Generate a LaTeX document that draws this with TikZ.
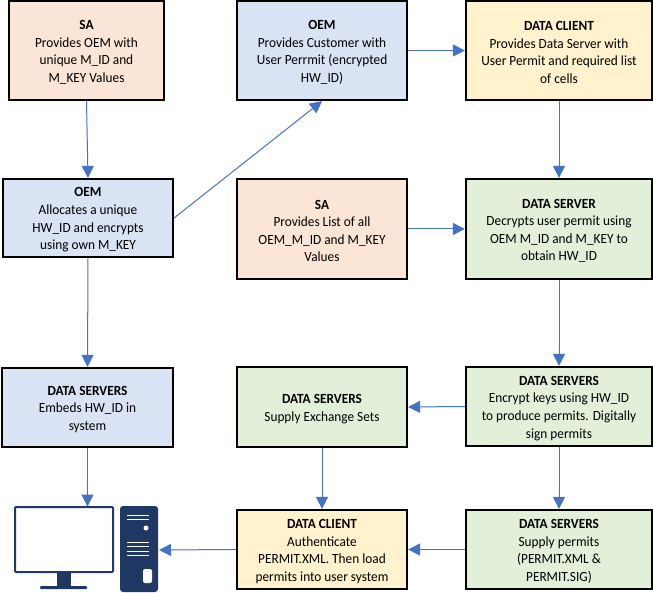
\documentclass[tikz,border=0pt]{standalone}
\usepackage{fontspec}
\setmainfont[FakeStretch=0.95]{Carlito}
\usetikzlibrary{arrows.meta}
\definecolor{peach}{HTML}{FBE5D6}
\definecolor{paleblue}{HTML}{DAE3F3}
\definecolor{paleyellow}{HTML}{FFF2CC}
\definecolor{palegreen}{HTML}{E2F0D9}
\definecolor{arrowblue}{HTML}{4472C4}
\definecolor{navy}{HTML}{1F3864}
\newcommand{\boxhead}[1]{\rule{0pt}{13pt}\textbf{#1}}
\tikzset{
    box/.style={draw=black,line width=2.2pt,align=center,inner sep=0pt,
        font=\fontsize{14}{17.6}\selectfont},
    link/.style={arrowblue,line width=1pt,-{Triangle[length=12pt,width=12pt]}}
}
\begin{document}
\begin{tikzpicture}[x=1pt,y=-1pt]
        \useasboundingbox (0,0) rectangle (653,593);
        \fill[white] (0,0) rectangle (653,593);
        % top row
        \node[box,fill=peach,minimum width=155pt,minimum height=99pt] (SAa) at (86.5,50.5)
            {\boxhead{SA}\\Provides OEM with\\unique M\_ID and\\M\_KEY Values};
        \node[box,fill=paleblue,minimum width=170pt,minimum height=99pt] (OEMb) at (322,50.5)
            {\boxhead{OEM}\\Provides Customer with\\User Perrmit (encrypted\\HW\_ID)};
        \node[box,fill=paleyellow,minimum width=186pt,minimum height=99pt] (CLa) at (559,50.5)
            {\boxhead{DATA CLIENT}\\Provides Data Server with\\User Permit and required list\\of cells};
        % second row
        \node[box,fill=paleblue,minimum width=170pt,minimum height=78pt] (OEMa) at (88,218)
            {\boxhead{OEM}\\Allocates a unique\\HW\_ID and encrypts\\using own M\_KEY};
        \node[box,fill=peach,minimum width=170pt,minimum height=100pt] (SAb) at (322,229)
            {\boxhead{SA}\\Provides List of all\\OEM\_M\_ID and M\_KEY\\Values};
        \node[box,fill=palegreen,minimum width=186pt,minimum height=100pt] (DSa) at (559,229)
            {\boxhead{DATA SERVER}\\Decrypts user permit using\\OEM M\_ID and M\_KEY to\\obtain HW\_ID};
        % third row
        \node[box,fill=paleblue,minimum width=171pt,minimum height=79pt] (DSb) at (87.5,407.5)
            {\boxhead{DATA SERVERS}\\Embeds HW\_ID in\\system};
        \node[box,fill=palegreen,minimum width=170pt,minimum height=80pt] (DSc) at (322,407)
            {\boxhead{DATA SERVERS}\\Supply Exchange Sets};
        \node[box,fill=palegreen,minimum width=186pt,minimum height=79pt] (DSd) at (559,406.5)
            {\boxhead{DATA SERVERS}\\Encrypt keys using HW\_ID\\to produce permits. Digitally\\sign permits};
        % bottom row
        \node[box,fill=paleyellow,minimum width=170pt,minimum height=79pt] (CLb) at (322,549.5)
            {\boxhead{DATA CLIENT}\\Authenticate\\PERMIT.XML. Then load\\permits into user system};
        \node[box,fill=palegreen,minimum width=186pt,minimum height=79pt] (DSe) at (559,549.5)
            {\boxhead{DATA SERVERS}\\Supply permits\\(PERMIT.XML \&\\PERMIT.SIG)};
        % computer
        \coordinate (MON) at (87.5,506.5);
        \coordinate (TOW) at (159,550);
        \draw[navy,line width=2pt,fill=white,rounded corners=1pt] (15,507) rectangle (113,572);
        \fill[navy] (56.5,572) rectangle (71,586);
        \fill[navy,rounded corners=1pt] (40,586) rectangle (87,589);
        \fill[navy,rounded corners=3pt] (120,506) rectangle (158,592);
        \foreach \y in {515,519,542,546,551,555}
            \draw[white,line width=1pt] (127,\y) -- (149,\y);
        \fill[white] (146,528) circle (2.5);
        \fill[white,rounded corners=2pt] (143,569) rectangle (152,583);
        % connectors
        \draw[link] (SAa.south) -- (OEMa.north);
        \draw[link] (OEMa.east) -- (OEMb.south);
        \draw[link] (OEMa.south) -- (DSb.north);
        \draw[link] (DSb.south) -- (MON);
        \draw[link] (OEMb.east) -- (CLa.west);
        \draw[link] (CLa.south) -- (DSa.north);
        \draw[link] (SAb.east) -- (DSa.west);
        \draw[link] (DSa.south) -- (DSd.north);
        \draw[link] (DSd.west) -- (DSc.east);
        \draw[link] (DSd.south) -- (DSe.north);
        \draw[link] (DSc.south) -- (CLb.north);
        \draw[link] (DSe.west) -- (CLb.east);
        \draw[link] (CLb.west) -- (TOW);
    \end{tikzpicture}
\end{document}
